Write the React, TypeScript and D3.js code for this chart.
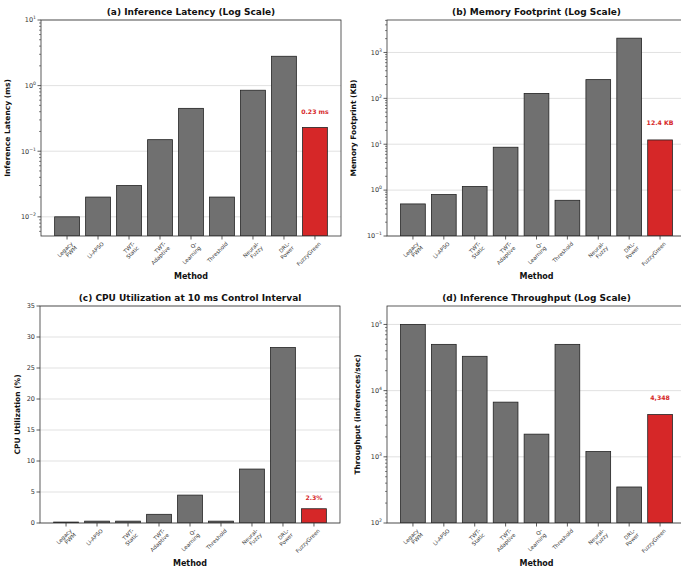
import React from "react";
import * as d3 from "d3";

const methods = [
  ["Legacy", "PWM"],
  ["Li-APSO"],
  ["TWT-", "Static"],
  ["TWT-", "Adaptive"],
  ["Q-", "Learning"],
  ["Threshold"],
  ["Neural-", "Fuzzy"],
  ["DRL-", "Power"],
  ["FuzzyGreen"],
];

const latencyMs = [0.01, 0.02, 0.03, 0.15, 0.45, 0.02, 0.85, 2.8, 0.23];
const memoryKB = [0.5, 0.8, 1.2, 8.6, 128, 0.6, 256, 2048, 12.4];
const cpuPct = [0.15, 0.3, 0.3, 1.4, 4.5, 0.3, 8.7, 28.3, 2.3];
const throughput = [100000, 50000, 33000, 6700, 2200, 50000, 1200, 350, 4348];

const latencyTicks = [-2, -1, 0, 1];
const memoryTicks = [-1, 0, 1, 2, 3];
const cpuTicks = [0, 5, 10, 15, 20, 25, 30, 35];
const throughputTicks = [2, 3, 4, 5];

const highlightLabels = ["0.23 ms", "12.4 KB", "2.3%", "4,348"];

const FONT = "DejaVu Sans, sans-serif";
const GRAY = "#707070";
const RED = "#d62728";

type PanelProps = {
  title: string;
  ylabel: string;
  values: number[];
  log: boolean;
  domain: [number, number];
  ticks: number[];
  left: number;
  right: number;
  top: number;
  bottom: number;
  label: string;
  labelPos: (v: number) => number;
  ylabelX: number;
};

function Panel(p: PanelProps) {
  const x = d3.scaleLinear().domain([-0.84, 8.84]).range([p.left, p.right]);
  const y = p.log
    ? d3.scaleLog().domain(p.domain).range([p.bottom, p.top])
    : d3.scaleLinear().domain(p.domain).range([p.bottom, p.top]);
  const bw = x(0.4) - x(-0.4);
  const tickVals = p.log ? p.ticks.map((e) => Math.pow(10, e)) : p.ticks;
  const minor: number[] = [];
  if (p.log) {
    const lo = Math.floor(Math.log10(p.domain[0]));
    const hi = Math.ceil(Math.log10(p.domain[1]));
    for (let e = lo; e <= hi; e++) {
      for (let m = 2; m <= 9; m++) {
        const v = m * Math.pow(10, e);
        if (v >= p.domain[0] && v <= p.domain[1]) minor.push(v);
      }
    }
  }
  const last = p.values.length - 1;
  const cx = (p.left + p.right) / 2;
  const cy = (p.top + p.bottom) / 2;
  const clipId = `clip-${p.left}-${p.top}`;
  return (
    <g fontFamily={FONT}>
      <defs>
        <clipPath id={clipId}>
          <rect x={p.left} y={p.top} width={p.right - p.left} height={p.bottom - p.top} />
        </clipPath>
      </defs>
      {tickVals.map((t, i) => (
        <line key={"g" + i} x1={p.left} x2={p.right} y1={y(t)} y2={y(t)} stroke="#d9d9d9" strokeWidth={0.8} />
      ))}
      <g clipPath={`url(#${clipId})`}>
        {p.values.map((v, i) => (
          <rect
            key={i}
            x={x(i) - bw / 2}
            y={y(v)}
            width={bw}
            height={p.bottom - y(v)}
            fill={i === last ? RED : GRAY}
            stroke="#222"
            strokeWidth={0.8}
          />
        ))}
      </g>
      <text
        x={x(last)}
        y={y(p.labelPos(p.values[last]))}
        textAnchor="middle"
        fontSize={6.2}
        fontWeight="bold"
        fill={RED}
      >
        {p.label}
      </text>
      <rect x={p.left} y={p.top} width={p.right - p.left} height={p.bottom - p.top} fill="none" stroke="#333" strokeWidth={0.8} />
      {minor.map((t, i) => (
        <line key={"m" + i} x1={p.left - 2} x2={p.left} y1={y(t)} y2={y(t)} stroke="#333" strokeWidth={0.6} />
      ))}
      {tickVals.map((t, i) => (
        <g key={"t" + i}>
          <line x1={p.left - 3.5} x2={p.left} y1={y(t)} y2={y(t)} stroke="#333" strokeWidth={0.8} />
          <text x={p.left - 5} y={y(t) + 2.3} textAnchor="end" fontSize={6.5} fill="#333">
            {p.log ? (
              <>
                10
                <tspan fontSize={4.6} dy={-3}>
                  {p.ticks[i] < 0 ? "\u2212" + Math.abs(p.ticks[i]) : String(p.ticks[i])}
                </tspan>
              </>
            ) : (
              String(t)
            )}
          </text>
        </g>
      ))}
      {methods.map((m, i) => (
        <g key={"x" + i}>
          <line x1={x(i)} x2={x(i)} y1={p.bottom} y2={p.bottom + 3.5} stroke="#333" strokeWidth={0.8} />
          <g transform={`translate(${x(i) + 3},${p.bottom + 5}) rotate(-45)`}>
            {m.map((line, j) => (
              <text key={j} x={0} y={4.5 + j * 5.8} textAnchor="end" fontSize={5.4} fill="#333">
                {line}
              </text>
            ))}
          </g>
        </g>
      ))}
      <text x={cx} y={p.top - 5} textAnchor="middle" fontSize={9} fontWeight="bold" fill="#111">
        {p.title}
      </text>
      <text
        transform={`translate(${p.ylabelX},${cy}) rotate(-90)`}
        textAnchor="middle"
        fontSize={7.5}
        fontWeight="bold"
        fill="#111"
      >
        {p.ylabel}
      </text>
      <text x={cx} y={p.bottom + 43} textAnchor="middle" fontSize={8} fontWeight="bold" fill="#111">
        Method
      </text>
    </g>
  );
}

export default function App() {
  return (
    <svg width={681} height={574} style={{ display: "block", position: "absolute", left: 0, top: 0, background: "#fff" }}>
      <rect width={681} height={574} fill="#fff" />
      <Panel
        title="(a) Inference Latency (Log Scale)"
        ylabel="Inference Latency (ms)"
        values={latencyMs}
        log
        domain={[0.0051, 10]}
        ticks={latencyTicks}
        left={41}
        right={341}
        top={20}
        bottom={236}
        label={highlightLabels[0]}
        labelPos={(v) => v * 1.6}
        ylabelX={10}
      />
      <Panel
        title="(b) Memory Footprint (Log Scale)"
        ylabel="Memory Footprint (KB)"
        values={memoryKB}
        log
        domain={[0.1, 5100]}
        ticks={memoryTicks}
        left={387}
        right={686}
        top={20}
        bottom={236}
        label={highlightLabels[1]}
        labelPos={(v) => v * 2.1}
        ylabelX={356}
      />
      <Panel
        title="(c) CPU Utilization at 10 ms Control Interval"
        ylabel="CPU Utilization (%)"
        values={cpuPct}
        log={false}
        domain={[0, 35]}
        ticks={cpuTicks}
        left={40}
        right={340}
        top={306}
        bottom={523}
        label={highlightLabels[2]}
        labelPos={(v) => v + 1.45}
        ylabelX={20}
      />
      <Panel
        title="(d) Inference Throughput (Log Scale)"
        ylabel="Throughput (inferences/sec)"
        values={throughput}
        log
        domain={[100, 190000]}
        ticks={throughputTicks}
        left={387}
        right={686}
        top={306}
        bottom={523}
        label={highlightLabels[3]}
        labelPos={(v) => v * 1.65}
        ylabelX={360}
      />
    </svg>
  );
}
